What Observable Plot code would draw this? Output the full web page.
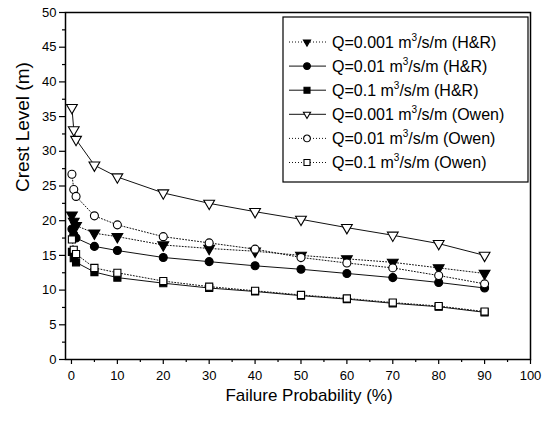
<!DOCTYPE html>
<html>
<head>
<meta charset="utf-8">
<script src="https://cdn.jsdelivr.net/npm/d3@7"></script>
<script src="https://cdn.jsdelivr.net/npm/@observablehq/plot@0.6"></script>
<style>
  html, body { margin: 0; padding: 0; background: #fff; }
  #chart { width: 549px; height: 421px; }
</style>
</head>
<body>
<div id="chart"></div>
<script>
// Failure probability (%)
const failureProb = [0.1, 0.5, 1, 5, 10, 20, 30, 40, 50, 60, 70, 80, 90];
// Crest level (m) per series
const hr0001 = [20.8, 19.9, 19.3, 18.2, 17.7, 16.5, 16.0, 15.6, 15.0, 14.5, 14.0, 13.2, 12.4];
const hr001  = [18.8, 18.0, 17.5, 16.3, 15.7, 14.7, 14.1, 13.5, 13.0, 12.4, 11.8, 11.1, 10.3];
const hr01   = [15.5, 14.6, 14.0, 12.6, 11.8, 11.0, 10.3, 9.8, 9.2, 8.7, 8.1, 7.6, 6.8];
const owen0001 = [36.3, 33.1, 31.7, 28.0, 26.3, 24.0, 22.5, 21.3, 20.2, 19.0, 17.9, 16.7, 15.0];
const owen001  = [26.7, 24.5, 23.5, 20.7, 19.4, 17.7, 16.8, 15.9, 14.7, 13.9, 13.2, 12.1, 10.9];
const owen01   = [17.3, 15.8, 15.2, 13.2, 12.5, 11.3, 10.5, 9.9, 9.3, 8.8, 8.2, 7.7, 6.9];

const seriesNames = [
  "Q=0.001 (H&R)", "Q=0.01 (H&R)", "Q=0.1 (H&R)",
  "Q=0.001 (Owen)", "Q=0.01 (Owen)", "Q=0.1 (Owen)"
];
const legendLabels = [
  ["Q=0.001 m", "/s/m (H&R)"],
  ["Q=0.01 m", "/s/m (H&R)"],
  ["Q=0.1 m", "/s/m (H&R)"],
  ["Q=0.001 m", "/s/m (Owen)"],
  ["Q=0.01 m", "/s/m (Owen)"],
  ["Q=0.1 m", "/s/m (Owen)"]
];
const seriesValues = [hr0001, hr001, hr01, owen0001, owen001, owen01];

// styles
const styles = [
  {symbol: "triangle", rotate: 180, fill: "black", dash: "1,2", r: 4.0},
  {symbol: "circle", rotate: 0, fill: "black", dash: null, r: 4.0},
  {symbol: "square", rotate: 0, fill: "black", dash: null, r: 4.0},
  {symbol: "triangle", rotate: 180, fill: "white", dash: null, r: 4.0},
  {symbol: "circle", rotate: 0, fill: "white", dash: "1,2", r: 4.0},
  {symbol: "square", rotate: 0, fill: "white", dash: "1,2", r: 4.0}
];

const tables = seriesValues.map((vals, i) =>
  failureProb.map((x, j) => ({x, y: vals[j], series: seriesNames[i]})));

const font = "'Liberation Sans', Arial, sans-serif";

const lineMarks = tables.map((t, i) => Plot.line(t, {
  x: "x", y: "y", stroke: "#111", strokeWidth: 1,
  strokeDasharray: styles[i].dash || undefined
}));
const dotMarks = tables.map((t, i) => Plot.dot(t, {
  x: "x", y: "y", symbol: () => styles[i].symbol, r: styles[i].r,
  rotate: styles[i].rotate, fill: styles[i].fill, stroke: "black", strokeWidth: 1.1
}));

const plot = Plot.plot({
  width: 549,
  height: 421,
  marginLeft: 65,
  marginRight: 19,
  marginTop: 12,
  marginBottom: 62,
  style: {fontFamily: font, color: "black", background: "white"},
  x: {domain: [-1.3, 100]},
  y: {domain: [0, 50]},
  symbol: {type: "identity"},
  marks: [
    Plot.axisY({ticks: d3.range(0, 51, 5), tickSize: 6, tickPadding: 3, fontSize: 13, label: null, strokeWidth: 1.2}),
    Plot.axisY({ticks: d3.range(2.5, 50, 5), tickSize: 3, tickFormat: () => "", label: null, strokeWidth: 1.2}),
    Plot.axisX({ticks: d3.range(0, 101, 10), tickSize: 5, tickPadding: 6, fontSize: 13, label: null, strokeWidth: 1.2}),
    Plot.axisX({ticks: d3.range(5, 100, 10), tickSize: 3, tickFormat: () => "", label: null, strokeWidth: 1.2}),
    ...lineMarks,
    ...dotMarks,
    Plot.frame({stroke: "black", strokeWidth: 1.5}),
    Plot.text(["Crest Level (m)"], {frameAnchor: "left", dx: -43, dy: 6, rotate: -90, fontSize: 19, fill: "black"}),
    Plot.text(["Failure Probability (%)"], {frameAnchor: "bottom", dx: 11, dy: 41, fontSize: 17, fill: "black"})
  ]
});

document.getElementById("chart").appendChild(plot);

// Legend
const svg = d3.select(plot);
const lg = svg.append("g").attr("font-family", font).attr("text-anchor", "start");
lg.append("rect").attr("x", 283).attr("y", 17).attr("width", 245).attr("height", 165)
  .attr("fill", "white").attr("stroke", "black").attr("stroke-width", 1.2);
const symMap = {triangle: d3.symbolTriangle2, circle: d3.symbolCircle, square: d3.symbolSquare};
legendLabels.forEach((lab, i) => {
  const cy = 42 + i * 24.1;
  const s = styles[i];
  lg.append("line").attr("x1", 289).attr("x2", 326).attr("y1", cy).attr("y2", cy)
    .attr("stroke", "#111").attr("stroke-width", 1)
    .attr("stroke-dasharray", s.dash || null);
  lg.append("path")
    .attr("d", d3.symbol(symMap[s.symbol], Math.PI * 3.4 * 3.4)())
    .attr("transform", `translate(307,${cy}) rotate(${s.rotate})`)
    .attr("fill", s.fill).attr("stroke", "black").attr("stroke-width", 1.1);
  const t = lg.append("text").attr("x", 332).attr("y", cy + 5.5).attr("font-size", 16)
    .attr("fill", "black").attr("text-anchor", "start");
  t.append("tspan").text(lab[0]);
  t.append("tspan").attr("dy", -7).attr("font-size", 10).text("3");
  t.append("tspan").attr("dy", 7).text(lab[1]);
});
</script>
</body>
</html>
